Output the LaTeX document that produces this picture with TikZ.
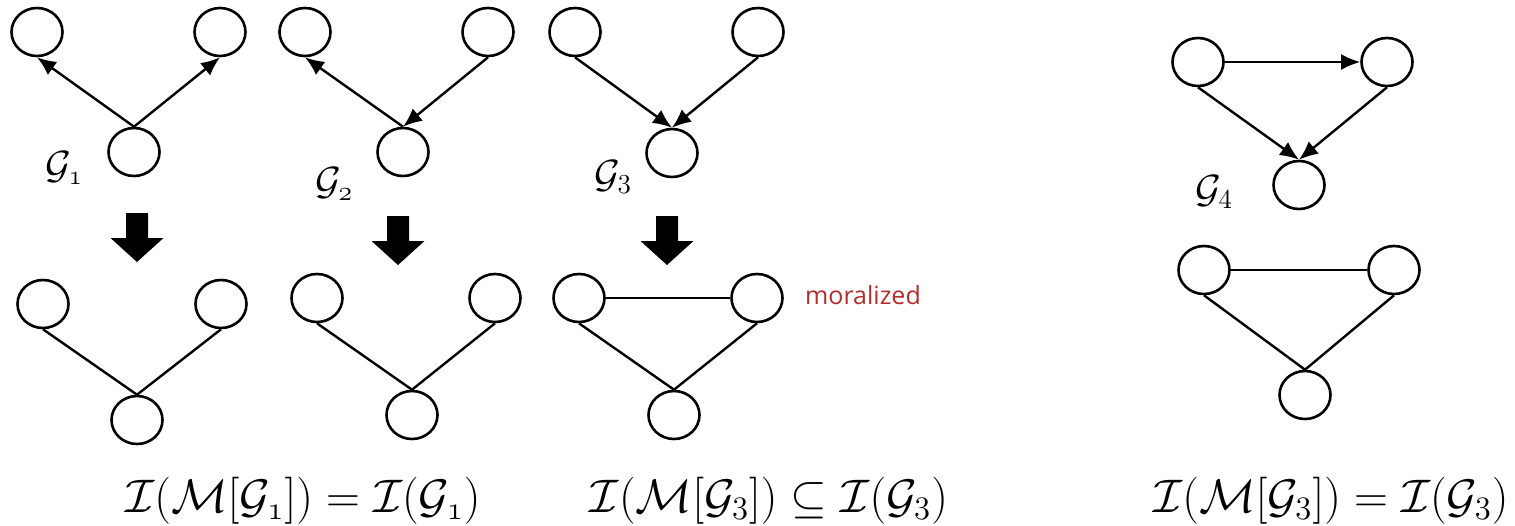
\documentclass[tikz,border=0pt]{standalone}
\usepackage{amsmath}
\usepackage{amssymb}
\usepackage{fontspec}
\newfontfamily\notefont{Open Sans}
\usetikzlibrary{arrows.meta, shapes.geometric}
\definecolor{morared}{RGB}{180,45,45}

\begin{document}
\begin{tikzpicture}[
    x=1pt, y=-1pt,
    var/.style={ellipse, draw=black, line width=2.6pt, fill=white,
                minimum width=51pt, minimum height=48pt, inner sep=0pt},
    arr/.style={-{Latex[length=19pt, width=16pt]}, line width=2.4pt},
    und/.style={line width=2.4pt},
    glabel/.style={font=\huge, scale=1.9},
    eqn/.style={font=\huge, scale=2.27},
    note/.style={font=\notefont\fontsize{25}{30}\selectfont, text=morared},
    fatarrow/.style={fill=black},
]
  \useasboundingbox (0,0) rectangle (1515,525);

  %% ---- top row: directed graphs ----
  \node[var] (ta1) at (37, 32)  {};
  \node[var] (tb1) at (220,32)  {};
  \node[var] (tc1) at (134,152) {};
  \node[var] (ta2) at (305,32)  {};
  \node[var] (tb2) at (488,32)  {};
  \node[var] (tc2) at (403,152) {};
  \node[var] (ta3) at (575,32)  {};
  \node[var] (tb3) at (758,32)  {};
  \node[var] (tc3) at (672,153) {};
  \node[var] (ta4) at (1198,62)  {};
  \node[var] (tb4) at (1387,62)  {};
  \node[var] (tc4) at (1299,185) {};

  \node[glabel] (g1) at (64,168)   {$\mathcal{G}_{\mathnormal{1}}$};
  \node[glabel] (g2) at (334,184)  {$\mathcal{G}_{\mathnormal{2}}$};
  \node[glabel] (g3) at (613,177)  {$\mathcal{G}_3$};
  \node[glabel] (g4) at (1214,192) {$\mathcal{G}_4$};

  \draw[arr] (tc1.north) -- (ta1.south);
  \draw[arr] (tc1.north) -- (tb1.south);
  \draw[arr] (tc2.north) -- (ta2.south);
  \draw[arr] (tb2.south) -- (tc2.north);
  \draw[arr] (ta3.south) -- (tc3.north);
  \draw[arr] (tb3.south) -- (tc3.north);
  \draw[arr] (ta4.east)  -- (tb4.west);
  \draw[arr] (ta4.south) -- (tc4.north);
  \draw[arr] (tb4.south) -- (tc4.north);

  %% ---- fat arrows ----
  \coordinate (d1) at (137,238);
  \coordinate (d2) at (398,241);
  \coordinate (d3) at (667,241);
  \foreach \d in {d1,d2,d3}
    \fill[fatarrow, shift={(\d)}] (-11,-25) -- (11,-25) -- (11,0) -- (26.5,0)
      -- (0,24) -- (-26.5,0) -- (-11,0) -- cycle;

  %% ---- bottom row: moral graphs ----
  \node[var] (ma1) at (43, 304) {};
  \node[var] (mb1) at (221,304) {};
  \node[var] (mc1) at (137,420) {};
  \node[var] (ma2) at (317,298) {};
  \node[var] (mb2) at (495,298) {};
  \node[var] (mc2) at (412,415) {};
  \node[var] (ma3) at (579,298) {};
  \node[var] (mb3) at (757,298) {};
  \node[var] (mc3) at (674,415) {};
  \node[var] (ma4) at (1204,270) {};
  \node[var] (mb4) at (1394,270) {};
  \node[var] (mc4) at (1305,395) {};

  \draw[und] (ma1.south) -- (mc1.north);
  \draw[und] (mb1.south) -- (mc1.north);
  \draw[und] (ma2.south) -- (mc2.north);
  \draw[und] (mb2.south) -- (mc2.north);
  \draw[und] (ma3.east)  -- (mb3.west);
  \draw[und] (ma3.south) -- (mc3.north);
  \draw[und] (mb3.south) -- (mc3.north);
  \draw[und] (ma4.east)  -- (mb4.west);
  \draw[und] (ma4.south) -- (mc4.north);
  \draw[und] (mb4.south) -- (mc4.north);

  \node[note] (mor) at (863,295) {moralized};

  %% ---- equations ----
  \node[eqn] (e1) at (303,501)
    {$\mathcal{I}(\mathcal{M}[\mathcal{G}_{\mathnormal{1}}]) = \mathcal{I}(\mathcal{G}_{\mathnormal{1}})$};
  \node[eqn] (e2) at (769,501)
    {$\mathcal{I}(\mathcal{M}[\mathcal{G}_3]) \subseteq \mathcal{I}(\mathcal{G}_3)$};
  \node[eqn] (e3) at (1331,501)
    {$\mathcal{I}(\mathcal{M}[\mathcal{G}_3]) = \mathcal{I}(\mathcal{G}_3)$};

\end{tikzpicture}
\end{document}
